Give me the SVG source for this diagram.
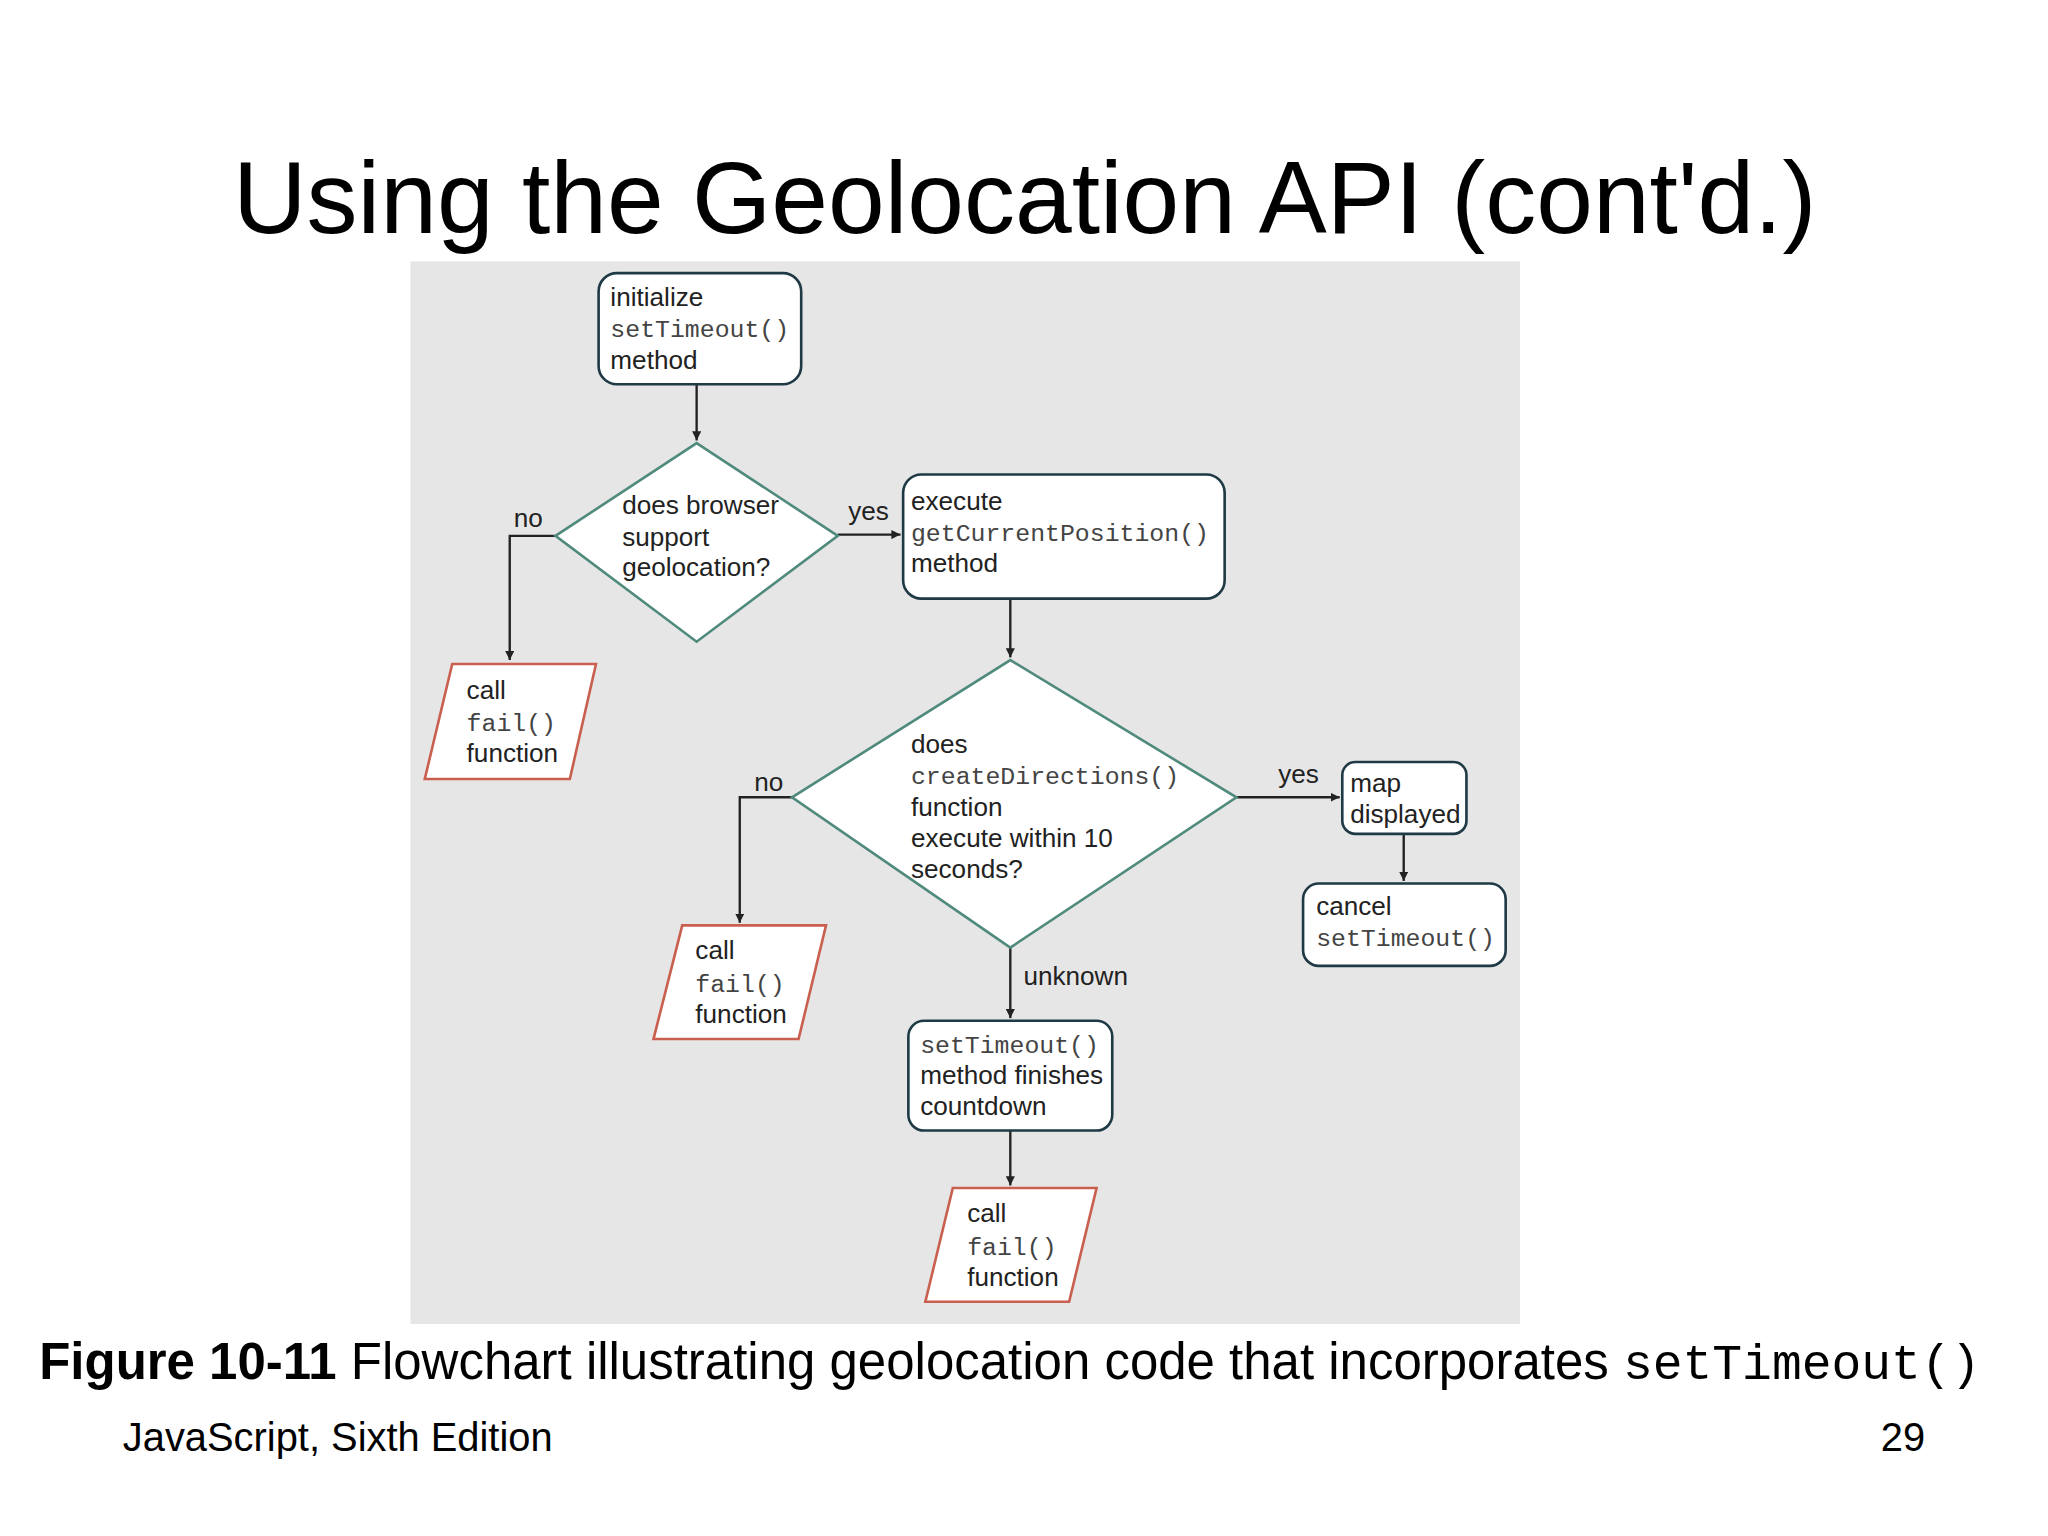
<svg xmlns="http://www.w3.org/2000/svg" width="2048" height="1536" viewBox="0 0 2048 1536">
<style>
.t{font-family:"Liberation Sans",Arial,sans-serif;font-size:20px;fill:#222}
.m{font-family:"Liberation Mono","Courier New",monospace;font-size:19px;fill:#444}
.box{fill:#fff;stroke:#1f3a44;stroke-width:2}
.dia{fill:#fff;stroke:#4f8a7c;stroke-width:2}
.par{fill:#fff;stroke:#c9604f;stroke-width:2}
.ln{fill:none;stroke:#222;stroke-width:1.8}
</style>
<defs><marker id="a" viewBox="0 0 10 10" refX="10" refY="5" markerWidth="7" markerHeight="7" markerUnits="userSpaceOnUse" orient="auto"><path d="M0,0L10,5L0,10z" fill="#222"/></marker></defs>
<rect width="2048" height="1536" fill="#fff"/>
<g transform="scale(1.307)">
<text x="784" y="178" text-anchor="middle" style="font-family:'Liberation Sans',Arial,sans-serif;font-size:78px" fill="#000">Using the Geolocation API (cont'd.)</text>
<rect x="314" y="200" width="849" height="813" fill="#e6e6e6"/>
<g id="connectors">
<path class="ln" d="M533,294V337" marker-end="url(#a)"/>
<path class="ln" d="M425,410H390V505" marker-end="url(#a)"/>
<path class="ln" d="M641,409H689" marker-end="url(#a)"/>
<path class="ln" d="M773,458V503" marker-end="url(#a)"/>
<path class="ln" d="M606,610H566V706" marker-end="url(#a)"/>
<path class="ln" d="M946,610H1025" marker-end="url(#a)"/>
<path class="ln" d="M1074,638V674" marker-end="url(#a)"/>
<path class="ln" d="M773,725V779" marker-end="url(#a)"/>
<path class="ln" d="M773,865V907" marker-end="url(#a)"/>
<text class="t" x="393" y="403">no</text>
<text class="t" x="649" y="398">yes</text>
<text class="t" x="577" y="605">no</text>
<text class="t" x="978" y="599">yes</text>
<text class="t" x="783" y="754">unknown</text>
</g>
<g id="init"><rect class="box" x="458" y="209" width="155" height="85" rx="14"/>
<text class="t" x="467" y="234">initialize</text><text class="m" x="467" y="258">setTimeout()</text><text class="t" x="467" y="282">method</text></g>
<g id="d1"><path class="dia" d="M533,339L641,410L533,491L425,410z"/>
<text class="t" x="476" y="393">does browser</text><text class="t" x="476" y="418">support</text><text class="t" x="476" y="441">geolocation?</text></g>
<g id="exec"><rect class="box" x="691" y="363" width="246" height="95" rx="14"/>
<text class="t" x="697" y="390">execute</text><text class="m" x="697" y="414">getCurrentPosition()</text><text class="t" x="697" y="438">method</text></g>
<g id="fail1"><path class="par" d="M346,508H456L436,596H325z"/>
<text class="t" x="357" y="535">call</text><text class="m" x="357" y="559">fail()</text><text class="t" x="357" y="583">function</text></g>
<g id="d2"><path class="dia" d="M773,505L946,610L773,725L606,610z"/>
<text class="t" x="697" y="576">does</text><text class="m" x="697" y="600">createDirections()</text><text class="t" x="697" y="624">function</text><text class="t" x="697" y="648">execute within 10</text><text class="t" x="697" y="672">seconds?</text></g>
<g id="fail2"><path class="par" d="M522,708H632L611,795H500z"/>
<text class="t" x="532" y="734">call</text><text class="m" x="532" y="759">fail()</text><text class="t" x="532" y="783">function</text></g>
<g id="map"><rect class="box" x="1027" y="583" width="95" height="55" rx="10"/>
<text class="t" x="1033" y="606">map</text><text class="t" x="1033" y="630">displayed</text></g>
<g id="cancel"><rect class="box" x="997" y="676" width="155" height="63" rx="12"/>
<text class="t" x="1007" y="700">cancel</text><text class="m" x="1007" y="724">setTimeout()</text></g>
<g id="finish"><rect class="box" x="695" y="781" width="156" height="84" rx="12"/>
<text class="m" x="704" y="806">setTimeout()</text><text class="t" x="704" y="829">method finishes</text><text class="t" x="704" y="853">countdown</text></g>
<g id="fail3"><path class="par" d="M729,909H839L818,996H708z"/>
<text class="t" x="740" y="935">call</text><text class="m" x="740" y="960">fail()</text><text class="t" x="740" y="984">function</text></g>
<text x="30" y="1055" style="font-family:'Liberation Sans',Arial,sans-serif;font-size:39px" fill="#000"><tspan font-weight="bold">Figure 10-11</tspan> Flowchart illustrating geolocation code that incorporates <tspan style="font-family:'Liberation Mono',monospace;font-size:38px">setTimeout()</tspan></text>
<text x="94" y="1110" style="font-family:'Liberation Sans',Arial,sans-serif;font-size:30.5px" fill="#000">JavaScript, Sixth Edition</text>
<text x="1473" y="1110" text-anchor="end" style="font-family:'Liberation Sans',Arial,sans-serif;font-size:30.5px" fill="#000">29</text>
</g>
</svg>
